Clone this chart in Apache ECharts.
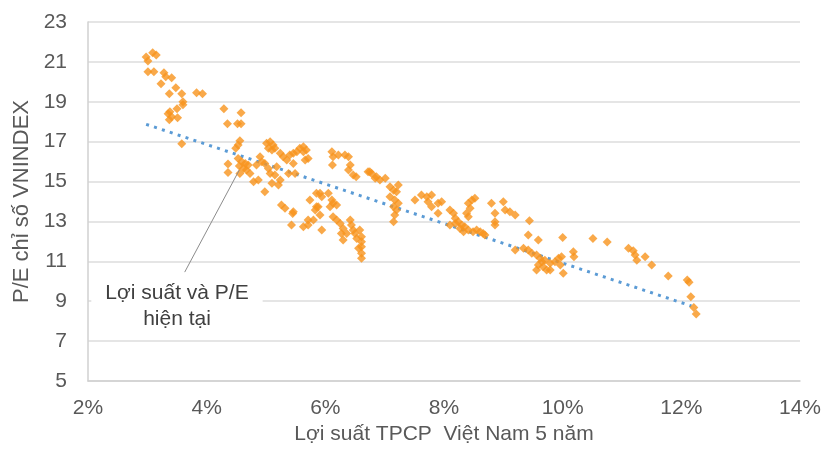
<!DOCTYPE html>
<html>
<head>
<meta charset="UTF-8" />
<title>P/E vs bond yield</title>
<script src="https://cdn.jsdelivr.net/npm/echarts@6/dist/echarts.min.js"></script>
<style>
    html, body { margin: 0; padding: 0; background: #fff; }
    #main { width: 828px; height: 453px; }
</style>
<script>
// Lợi suất TPCP 5 năm (%) và P/E VNINDEX
var yieldPct = [
    2.98, 3.01, 3.09, 3.15, 3.01, 3.11, 3.28, 3.31, 3.41, 3.23, 3.48, 3.37, 3.58, 3.83, 3.93,
    3.60, 3.60, 3.50, 3.38, 3.35, 3.41, 3.51, 3.37, 4.29, 4.58, 4.35, 4.52, 4.58, 3.58,
    4.56, 4.53, 4.49, 4.36, 4.36, 4.53, 4.59, 4.55, 4.62, 4.67, 4.56, 4.73, 4.65, 4.70,
    4.90, 4.93, 4.84, 5.01, 5.07, 5.12, 5.04, 5.10, 5.15, 4.98, 5.04, 5.07, 5.18, 5.15,
    4.79, 4.87, 4.98, 5.10, 5.24, 5.21, 5.24, 5.29, 5.35, 5.40, 5.46, 5.52, 5.57, 5.63,
    5.68, 5.71, 5.46, 5.49, 5.38,
    5.26, 5.32, 5.46, 5.74, 5.85, 5.71, 5.85, 5.43, 5.63, 5.45,
    5.63, 5.66, 6.11, 6.13, 6.12, 6.22, 6.33, 6.39, 6.42, 6.39, 6.47, 6.52, 6.72, 6.78, 6.86,
    5.91, 5.94, 5.88, 5.83, 5.91, 5.80, 5.71, 5.94, 6.05, 6.11, 6.13, 6.19, 6.08,
    6.13, 6.19, 6.25, 6.30, 6.27, 6.36, 6.30, 6.42, 6.44, 6.47, 6.50, 6.53, 6.58, 6.61,
    6.61, 6.61, 6.61, 6.61, 6.56,
    6.75, 6.84, 6.92, 7.01, 7.09, 7.15, 7.23, 7.20, 7.09, 7.17, 7.23, 7.15, 7.20, 7.17, 7.15,
    7.51, 7.62, 7.71, 7.79, 7.73, 7.79, 7.90, 7.96, 7.90,
    8.10, 8.16, 8.19, 8.24, 8.30, 8.35, 8.41, 8.49, 8.55, 8.61, 8.66, 8.69, 8.19, 8.27, 8.33, 8.10,
    8.41, 8.44, 8.47, 8.52, 8.38, 8.41, 8.80, 8.86, 8.86, 8.86, 9.00, 9.03, 9.11, 9.20,
    9.44, 9.42, 9.59, 10.00, 10.51, 10.75,
    9.20, 9.34, 9.42, 9.48, 9.56, 9.62, 9.65, 9.70, 9.59, 9.67, 9.73, 9.56, 9.79, 9.87, 9.93,
    9.98, 9.96, 10.01, 9.79, 10.18, 10.19,
    11.11, 11.19, 11.22, 11.25, 11.39, 11.50, 11.78, 12.10, 12.13, 12.16, 12.21, 12.25
];
var peRatio = [
    21.25, 21.05, 21.46, 21.35, 20.50, 20.50, 20.45, 20.25, 20.20, 19.90, 19.70, 19.40, 19.40, 19.45, 19.40,
    19.00, 18.85, 18.65, 18.50, 18.40, 18.25, 18.20, 18.10, 18.65, 18.45, 17.90, 17.90, 17.90, 16.90,
    17.05, 16.83, 16.67, 15.88, 15.46, 16.16, 15.99, 15.78, 15.66, 15.58, 15.41, 15.41, 15.91, 15.83,
    16.24, 15.99, 15.83, 16.92, 17.00, 16.83, 16.67, 16.58, 16.67, 15.91, 15.66, 15.41, 15.74, 15.33,
    14.99, 15.08, 14.49, 14.91, 15.08, 14.83, 16.42, 16.24, 16.08, 16.33, 16.42, 16.50, 16.67, 16.75,
    16.58, 16.16, 15.91, 15.41, 15.41,
    13.82, 13.66, 13.49, 14.07, 14.41, 13.07, 13.74, 12.82, 12.73, 13.40,
    16.50, 16.08, 16.50, 16.24, 15.83, 16.33, 16.33, 16.24, 15.83, 15.58, 15.33, 15.24, 15.49, 15.41, 15.24,
    14.41, 14.24, 13.74, 13.57, 13.32, 13.07, 12.82, 12.57, 14.41, 14.07, 13.91, 13.82, 13.74,
    13.24, 13.07, 12.90, 12.65, 12.40, 12.40, 12.07, 13.07, 12.82, 12.57, 12.40, 12.15, 12.57, 12.23,
    11.98, 11.73, 11.40, 11.15, 11.65,
    15.49, 15.16, 15.08, 15.16, 14.74, 14.57, 14.83, 14.49, 14.24, 14.07, 13.91, 13.74, 13.57, 13.32, 12.99,
    14.07, 14.32, 14.24, 14.32, 13.99, 13.74, 13.91, 13.99, 13.41,
    13.57, 13.41, 13.16, 12.99, 12.82, 12.73, 12.57, 12.48, 12.57, 12.48, 12.40, 12.32, 12.90, 12.65, 12.48, 12.82,
    13.91, 13.66, 14.07, 14.16, 13.41, 13.24, 13.91, 13.41, 12.99, 12.82, 13.99, 13.57, 13.49, 13.32,
    13.03, 12.32, 12.07, 12.20, 12.15, 11.97,
    11.57, 11.65, 11.57, 11.40, 11.32, 11.15, 10.98, 11.06, 10.81, 10.73, 10.56, 10.56, 10.90, 10.98, 11.15,
    11.23, 10.81, 10.40, 10.56, 11.48, 11.23,
    11.65, 11.53, 11.32, 11.06, 11.23, 10.81, 10.26, 10.06, 9.95, 9.22, 8.69, 8.36
];
// đường xu hướng (tuyến tính), hai đầu mút
var trendX = [2.98, 12.17];
var trendY = [17.87, 8.76];
// mũi chỉ "hiện tại": từ chú thích tới điểm
var pointerX = [3.63, 4.55];
var pointerY = [10.46, 15.58];

var xTicks = { min: 2, max: 14, step: 2 };
var yTicks = { min: 5, max: 23, step: 2 };

var txtFont = "'Liberation Sans', Arial, sans-serif";
var txtColor = '#595959';

function pairs(xs, ys) {
    var out = [];
    for (var i = 0; i < xs.length; i++) {
        out.push([xs[i], ys[i]]);
    }
    return out;
}

window.onload = function () {
    var myChart = echarts.init(document.getElementById('main'), null, { renderer: 'canvas' });
    myChart.setOption({
        animation: false,
        backgroundColor: '#fff',
        grid: { left: 88, right: 28, top: 22, bottom: 72 },
        xAxis: {
            type: 'value',
            min: xTicks.min,
            max: xTicks.max,
            interval: xTicks.step,
            name: 'Lợi suất TPCP  Việt Nam 5 năm',
            nameLocation: 'middle',
            nameGap: 43,
            nameTextStyle: { fontFamily: txtFont, fontSize: 21, color: txtColor },
            axisLine: { show: true, lineStyle: { color: '#d0d0d0', width: 1.5 } },
            axisTick: { show: false },
            splitLine: { show: false },
            axisLabel: {
                formatter: '{value}%',
                margin: 17,
                fontFamily: txtFont,
                fontSize: 21,
                color: txtColor
            }
        },
        yAxis: {
            type: 'value',
            min: yTicks.min,
            max: yTicks.max,
            interval: yTicks.step,
            name: 'P/E chỉ số VNINDEX',
            nameLocation: 'middle',
            nameGap: 53,
            nameTextStyle: { fontFamily: txtFont, fontSize: 22, color: txtColor },
            axisLine: { show: true, lineStyle: { color: '#d0d0d0', width: 1.5 } },
            axisTick: { show: false },
            splitLine: { show: true, lineStyle: { color: '#dcdcdc', width: 1.5 } },
            axisLabel: {
                margin: 21,
                fontFamily: txtFont,
                fontSize: 21,
                color: txtColor
            }
        },
        series: [
            {
                name: 'P/E',
                type: 'scatter',
                symbol: 'diamond',
                symbolSize: 9,
                itemStyle: { color: '#F7941D' },
                data: pairs(yieldPct, peRatio),
                z: 3,
                markLine: {
                    silent: true,
                    symbol: 'none',
                    label: { show: false },
                    lineStyle: { color: '#8c8c8c', width: 1, type: 'solid' },
                    data: [[
                        { coord: [pointerX[0], pointerY[0]] },
                        { coord: [pointerX[1], pointerY[1]] }
                    ]]
                }
            },
            {
                name: 'Xu hướng',
                type: 'line',
                symbol: 'none',
                data: pairs(trendX, trendY),
                lineStyle: { color: '#5B9BD5', width: 3, type: [3, 5.3] },
                z: 2
            }
        ],
        graphic: [{
            type: 'text',
            x: 177,
            y: 278,
            z: 10,
            style: {
                text: 'Lợi suất và P/E\nhiện tại',
                font: '21px ' + txtFont,
                fill: '#404040',
                align: 'center',
                verticalAlign: 'top',
                lineHeight: 26,
                backgroundColor: '#fff',
                padding: [2, 14, 4, 14]
            }
        }]
    });
};
</script>
</head>
<body>
<div id="main"></div>
</body>
</html>
